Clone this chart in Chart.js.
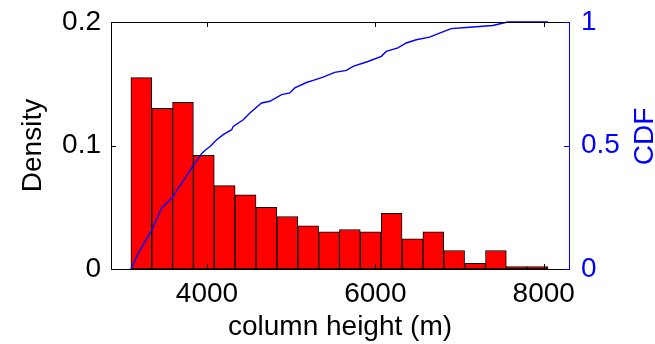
<!DOCTYPE html>
<html><head><meta charset="utf-8">
<style>html,body{margin:0;padding:0;background:#fff;overflow:hidden}#wrap{width:655px;height:344px;position:relative}</style>
<script src="https://cdn.jsdelivr.net/npm/chart.js@4/dist/chart.umd.min.js"></script>
</head><body><div id="wrap"><canvas id="c" width="655" height="344"></canvas></div>
<script>
// Histogram bins (column height, m) — bin centres
const binCenters = [3220, 3468, 3715, 3963, 4211, 4459, 4706, 4954, 5202, 5450,
                    5697, 5945, 6193, 6441, 6688, 6936, 7184, 7432, 7679, 7927];
// Density (probability per bin)
const density = [0.155, 0.130, 0.135, 0.092, 0.0675, 0.060, 0.050, 0.0425, 0.035, 0.030,
                 0.032, 0.030, 0.045, 0.0245, 0.030, 0.015, 0.0045, 0.015, 0.002, 0.002];
const cdfX = [3096, 3186, 3336, 3463, 3581, 3700, 3819, 3937, 3976, 4036, 4115, 4193, 4293, 4312,
              4431, 4510, 4648, 4747, 4886, 4984, 5043, 5182, 5280, 5379, 5517, 5656, 5735, 5912,
              6071, 6130, 6268, 6367, 6486, 6644, 6762, 6901, 7079, 7394, 7572, 8051];
const cdfY = [0, 0.065, 0.152, 0.247, 0.287, 0.348, 0.409, 0.468, 0.480, 0.496, 0.523, 0.544, 0.564, 0.577,
              0.604, 0.632, 0.672, 0.679, 0.706, 0.713, 0.733, 0.755, 0.766, 0.777, 0.796, 0.804, 0.820, 0.840,
              0.861, 0.881, 0.895, 0.915, 0.928, 0.939, 0.955, 0.973, 0.978, 0.986, 1.0, 1.0];
// Tick labels
const xTicks = [4000, 6000, 8000];
const densityTicks = [0, 0.1, 0.2];
const cdfTicks = [0, 0.5, 1];

const FONT = {family: '"Liberation Sans", Arial, Helvetica, sans-serif', size: 28};
const BLUE = '#0000ff';

const inwardTicks = {
  id: 'inwardTicks',
  afterDraw(chart) {
    const ctx = chart.ctx, a = chart.chartArea;
    const L = 5;
    ctx.save();
    ctx.lineWidth = 1;
    // top border
    ctx.strokeStyle = '#000';
    ctx.beginPath();
    ctx.moveTo(a.left, Math.round(a.top) + 0.5);
    ctx.lineTo(a.right, Math.round(a.top) + 0.5);
    ctx.stroke();
    const xs = chart.scales.x;
    xs.ticks.forEach(t => {
      const px = Math.round(xs.getPixelForValue(t.value)) + 0.5;
      ctx.beginPath();
      ctx.moveTo(px, a.bottom); ctx.lineTo(px, a.bottom - L);
      ctx.moveTo(px, a.top); ctx.lineTo(px, a.top + L);
      ctx.stroke();
    });
    const ys = chart.scales.y;
    ys.ticks.forEach(t => {
      const py = Math.round(ys.getPixelForValue(t.value)) + 0.5;
      ctx.beginPath(); ctx.moveTo(a.left, py); ctx.lineTo(a.left + L, py); ctx.stroke();
    });
    const y2 = chart.scales.y2;
    ctx.strokeStyle = BLUE;
    y2.ticks.forEach(t => {
      const py = Math.round(y2.getPixelForValue(t.value)) + 0.5;
      ctx.beginPath(); ctx.moveTo(a.right, py); ctx.lineTo(a.right - L, py); ctx.stroke();
    });
    // right axis title (reads bottom to top)
    ctx.fillStyle = BLUE;
    ctx.font = FONT.size + 'px ' + FONT.family;
    ctx.translate(653, (a.top + a.bottom) / 2 - 9);
    ctx.rotate(-Math.PI / 2);
    ctx.textAlign = 'center';
    ctx.textBaseline = 'alphabetic';
    ctx.fillText('CDF', 0, 0);
    ctx.restore();
  }
};

const noPad = s => { s.paddingTop = 0; s.paddingBottom = 0; s.paddingLeft = 0; s.paddingRight = 0; };

new Chart(document.getElementById('c'), {
  type: 'bar',
  data: {
    datasets: [
      {
        type: 'line',
        label: 'CDF',
        data: cdfX.map((x, i) => ({x, y: cdfY[i]})),
        xAxisID: 'x', yAxisID: 'y2',
        borderColor: BLUE, borderWidth: 1.4, pointRadius: 0, tension: 0, fill: false,
        clip: false, order: 0
      },
      {
        type: 'bar',
        label: 'Density',
        data: binCenters.map((x, i) => ({x, y: density[i]})),
        xAxisID: 'x', yAxisID: 'y',
        backgroundColor: '#ff0000', borderColor: '#000000', borderWidth: 1, borderSkipped: false,
        barPercentage: 1, categoryPercentage: 1, order: 1
      }
    ]
  },
  options: {
    responsive: false, animation: false, devicePixelRatio: 1,
    layout: {padding: {top: 22, left: 0, right: 0, bottom: 0}},
    plugins: {legend: {display: false}, tooltip: {enabled: false}},
    scales: {
      x: {
        type: 'linear', position: 'bottom', min: 2860, max: 8300, offset: false,
        grid: {display: false, drawTicks: false},
        border: {display: true, color: '#000', width: 1},
        afterBuildTicks: s => { s.ticks = xTicks.map(v => ({value: v})); },
        ticks: {font: FONT, color: '#000', padding: 8, maxRotation: 0, autoSkip: false,
                callback: v => String(v)},
        title: {display: true, text: 'column height (m)', font: FONT, color: '#000', padding: {top: 0, bottom: 0}},
        afterFit: s => { s.height = 75; noPad(s); }
      },
      y: {
        type: 'linear', position: 'left', min: 0, max: 0.2,
        grid: {display: false, drawTicks: false},
        border: {display: true, color: '#000', width: 1},
        afterBuildTicks: s => { s.ticks = densityTicks.map(v => ({value: v})); },
        ticks: {font: FONT, color: '#000', padding: 10, callback: v => String(v)},
        title: {display: true, text: 'Density', font: FONT, color: '#000', padding: {top: 16, bottom: 0}},
        afterFit: s => { s.width = 111; noPad(s); }
      },
      y2: {
        type: 'linear', position: 'right', min: 0, max: 1,
        grid: {display: false, drawTicks: false},
        border: {display: true, color: BLUE, width: 1},
        afterBuildTicks: s => { s.ticks = cdfTicks.map(v => ({value: v})); },
        ticks: {font: FONT, color: BLUE, padding: 12, callback: v => String(v)},
        afterFit: s => { s.width = 86; noPad(s); }
      }
    }
  },
  plugins: [inwardTicks]
});
</script>
</body></html>
